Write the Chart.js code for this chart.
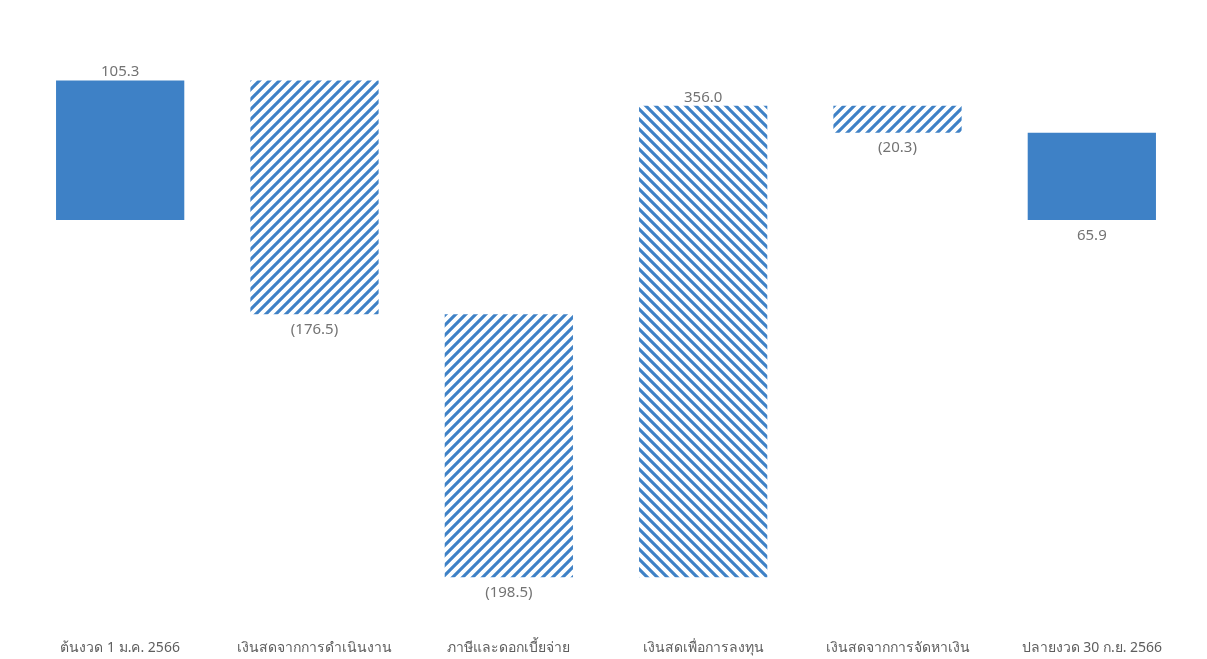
<!DOCTYPE html>
<html>
<head>
<meta charset="utf-8">
<script src="https://cdn.jsdelivr.net/npm/chart.js@4.4.1/dist/chart.umd.min.js"></script>
<style>
  html, body { margin: 0; padding: 0; background: #ffffff; }
  #wrap { width: 1207px; height: 659px; }
</style>
</head>
<body>
<div id="wrap"><canvas id="flowChart" width="1207" height="659"></canvas></div>
<script>
// categories and values (million baht)
const categories = ["ต้นงวด 1 ม.ค. 2566", "เงินสดจากการดำเนินงาน", "ภาษีและดอกเบี้ยจ่าย", "เงินสดเพื่อการลงทุน", "เงินสดจากการจัดหาเงิน", "ปลายงวด 30 ก.ย. 2566"];
const amounts = [105.3, -176.5, -198.5, 356.0, -20.3, 65.9];
const isTotal = [true, false, false, false, false, true];
const labelSide = ["top", "bottom", "bottom", "top", "bottom", "bottom"];

const blue = "#3e81c6";

function makeHatch(dir) {
    const s = 10;
    const c = document.createElement("canvas");
    c.width = s; c.height = s;
    const g = c.getContext("2d");
    g.strokeStyle = blue;
    g.lineWidth = 3.1;
    g.lineCap = "square";
    g.beginPath();
    if (dir === "up") {
        g.moveTo(-2, s + 2); g.lineTo(s + 2, -2);
        g.moveTo(-2, 2); g.lineTo(2, -2);
        g.moveTo(s - 2, s + 2); g.lineTo(s + 2, s - 2);
    } else {
        g.moveTo(-2, -2); g.lineTo(s + 2, s + 2);
        g.moveTo(s - 2, -2); g.lineTo(s + 2, 2);
        g.moveTo(-2, s - 2); g.lineTo(2, s + 2);
    }
    g.stroke();
    return g.createPattern(c, "repeat");
}

const hatchDown = makeHatch("up");   // decreases: "/" lines
const hatchUp = makeHatch("down");   // increases: "\" lines

// build floating ranges
let running = 0;
let ranges = [];
let fills = [];
for (let i = 0; i < amounts.length; i++) {
    if (isTotal[i]) {
        ranges.push([0, amounts[i]]);
        running = amounts[i];
        fills.push(blue);
    } else {
        ranges.push([running, running + amounts[i]]);
        running = running + amounts[i];
        fills.push(amounts[i] < 0 ? hatchDown : hatchUp);
    }
}

function fmt(v) {
    let t = Math.abs(v).toFixed(1);
    return v < 0 ? "(" + t + ")" : t;
}

const valueLabels = {
    id: "valueLabels",
    afterDatasetsDraw(chart) {
        const ctx = chart.ctx;
        const meta = chart.getDatasetMeta(0);
        ctx.save();
        ctx.font = "15px 'Noto Sans', 'DejaVu Sans', sans-serif";
        ctx.fillStyle = "#737373";
        ctx.textAlign = "center";
        meta.data.forEach(function (bar, i) {
            const r = ranges[i];
            const topY = chart.scales.y.getPixelForValue(Math.max(r[0], r[1]));
            const botY = chart.scales.y.getPixelForValue(Math.min(r[0], r[1]));
            if (labelSide[i] === "top") {
                ctx.textBaseline = "bottom";
                ctx.fillText(fmt(amounts[i]), bar.x, topY - 1);
            } else {
                ctx.textBaseline = "top";
                ctx.fillText(fmt(amounts[i]), bar.x, botY + 8);
            }
        });
        ctx.restore();
    }
};

new Chart(document.getElementById("flowChart"), {
    type: "bar",
    data: {
        labels: categories,
        datasets: [{
            data: ranges,
            backgroundColor: fills,
            borderWidth: 0,
            categoryPercentage: 1.0,
            barPercentage: 0.66
        }]
    },
    options: {
        responsive: false,
        animation: false,
        layout: { padding: { left: 23, right: 18, top: 30, bottom: 0 } },
        plugins: {
            legend: { display: false },
            tooltip: { enabled: false }
        },
        scales: {
            x: {
                grid: { display: false, drawTicks: false },
                border: { display: false },
                ticks: {
                    color: "#5e5e5e",
                    font: { size: 14, family: "'Noto Sans', 'DejaVu Sans', sans-serif" },
                    padding: 3,
                    maxRotation: 0,
                    autoSkip: false
                }
            },
            y: {
                display: false,
                min: -314.2,
                max: 143.5
            }
        }
    },
    plugins: [valueLabels]
});
</script>
</body>
</html>
